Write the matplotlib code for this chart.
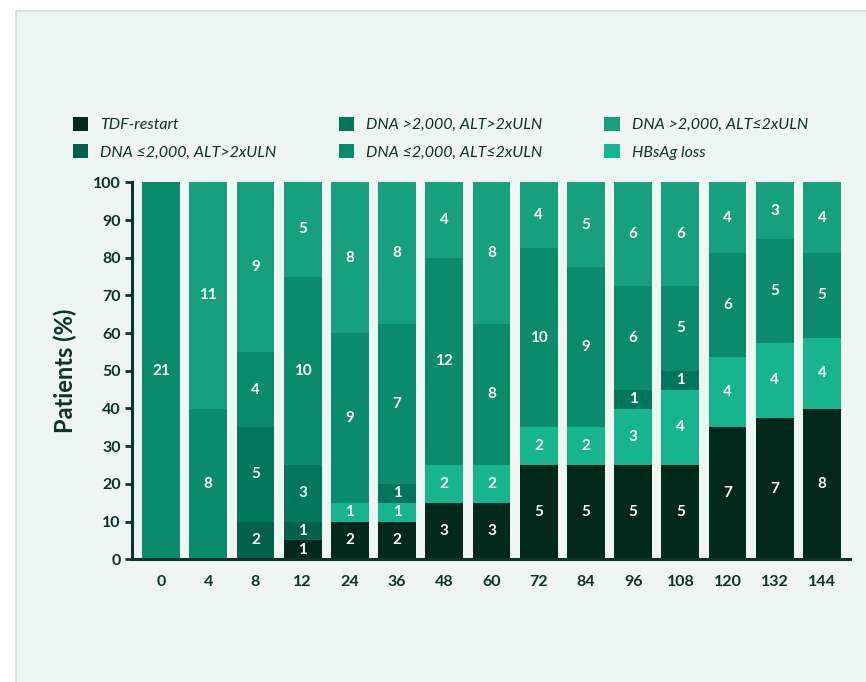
import matplotlib
matplotlib.use("Agg")
import matplotlib.pyplot as plt
from matplotlib.patches import Rectangle, Patch
import numpy as np

plt.rcParams['font.family'] = ['Lato', 'DejaVu Sans']

# ---- data ----
weeks = ['0', '4', '8', '12', '24', '36', '48', '60', '72', '84', '96', '108', '120', '132', '144']

# stack order bottom -> top
cat_names = ['TDF-restart', 'HBsAg loss', 'DNA ≤2,000, ALT>2xULN',
             'DNA >2,000, ALT>2xULN', 'DNA ≤2,000, ALT≤2xULN', 'DNA >2,000, ALT≤2xULN']

# segment heights (% of patients)
pct_tdf      = [0, 0, 0, 5, 10, 10, 15, 15, 25, 25, 25, 25, 35, 37.5, 40]
pct_hbsag    = [0, 0, 0, 0, 5, 5, 10, 10, 10, 10, 15, 20, 18.75, 20, 18.75]
pct_lo_hialt = [0, 0, 10, 5, 0, 0, 0, 0, 0, 0, 0, 0, 0, 0, 0]
pct_hi_hialt = [0, 0, 25, 15, 0, 5, 0, 0, 0, 0, 5, 5, 0, 0, 0]
pct_lo_loalt = [100, 40, 20, 50, 45, 42.5, 55, 37.5, 47.5, 42.5, 27.5, 22.5, 27.5, 27.5, 22.5]
pct_hi_loalt = [0, 60, 45, 25, 40, 37.5, 20, 37.5, 17.5, 22.5, 27.5, 27.5, 18.75, 15, 18.75]

# patient counts shown as labels
n_tdf      = [0, 0, 0, 1, 2, 2, 3, 3, 5, 5, 5, 5, 7, 7, 8]
n_hbsag    = [0, 0, 0, 0, 1, 1, 2, 2, 2, 2, 3, 4, 4, 4, 4]
n_lo_hialt = [0, 0, 2, 1, 0, 0, 0, 0, 0, 0, 0, 0, 0, 0, 0]
n_hi_hialt = [0, 0, 5, 3, 0, 1, 0, 0, 0, 0, 1, 1, 0, 0, 0]
n_lo_loalt = [21, 8, 4, 10, 9, 7, 12, 8, 10, 9, 6, 5, 6, 5, 5]
n_hi_loalt = [0, 11, 9, 5, 8, 8, 4, 8, 4, 5, 6, 6, 4, 3, 4]

yticks = [0, 10, 20, 30, 40, 50, 60, 70, 80, 90, 100]

# ---- style ----
colors = {
    'TDF-restart': '#00291b',
    'HBsAg loss': '#17b58e',
    'DNA ≤2,000, ALT>2xULN': '#03604a',
    'DNA >2,000, ALT>2xULN': '#00775b',
    'DNA ≤2,000, ALT≤2xULN': '#098b6c',
    'DNA >2,000, ALT≤2xULN': '#16a07d',
}
dark = '#0c3327'
panel = '#eef5f2'

pcts = [pct_tdf, pct_hbsag, pct_lo_hialt, pct_hi_hialt, pct_lo_loalt, pct_hi_loalt]
counts = [n_tdf, n_hbsag, n_lo_hialt, n_hi_hialt, n_lo_loalt, n_hi_loalt]

W, H = 866, 682
fig = plt.figure(figsize=(W / 100, H / 100), dpi=100)
fig.patch.set_facecolor('white')
fig.patches.append(Rectangle((16 / W, -0.1), 1.2, 1.1 - 11 / H, transform=fig.transFigure,
                             facecolor=panel, edgecolor='#cfe1d9', linewidth=1.2, zorder=-10))

ax = fig.add_axes([132 / W, 1 - 559.3 / H, (850 - 132) / W, (559.3 - 182.3) / H])
ax.set_zorder(2)
ax.set_facecolor('none')

x = np.arange(len(weeks))
bottom = np.zeros(len(weeks))
for name, p, n in zip(cat_names, pcts, counts):
    p = np.array(p, dtype=float)
    ax.bar(x, p, bottom=bottom, width=0.8, color=colors[name], edgecolor='none', zorder=2)
    for i in range(len(weeks)):
        if n[i] > 0:
            ax.text(x[i], bottom[i] + p[i] / 2, str(n[i]), ha='center', va='center',
                    color='white', fontsize=11, fontweight='bold', zorder=3)
    bottom += p

ax.set_xlim(-0.614, 14.593)
ax.set_ylim(0, 100)
ax.set_xticks(x)
ax.set_xticklabels(weeks)
ax.set_yticks(yticks)
for s in ['top', 'right']:
    ax.spines[s].set_visible(False)
for s in ['left', 'bottom']:
    ax.spines[s].set_color(dark)
    ax.spines[s].set_linewidth(2.2)
ax.tick_params(axis='x', length=0, pad=11, labelsize=11.5, labelcolor=dark)
ax.tick_params(axis='y', length=5, width=2, color=dark, pad=3, labelsize=11.5, labelcolor=dark)
for lab in ax.get_xticklabels() + ax.get_yticklabels():
    lab.set_fontweight('bold')

ax.set_ylabel('Patients (%)', fontsize=17, fontweight='bold', color=dark)
ax.yaxis.set_label_coords(-0.077, 0.5)

legend_order = ['TDF-restart', 'DNA ≤2,000, ALT>2xULN', 'DNA >2,000, ALT>2xULN',
                'DNA ≤2,000, ALT≤2xULN', 'DNA >2,000, ALT≤2xULN', 'HBsAg loss']
handles = [Patch(facecolor=colors[c], edgecolor='none', label=c) for c in legend_order]
leg = fig.legend(handles=handles, ncol=3, loc='upper left',
                 bbox_to_anchor=(73 / W, 1 - 117 / H), frameon=False,
                 prop={'family': 'Lato', 'style': 'italic', 'size': 11.5},
                 handlelength=0.95, handleheight=0.95, handletextpad=0.75,
                 columnspacing=3.9, labelspacing=0.75, borderpad=0, borderaxespad=0)
for t in leg.get_texts():
    t.set_color(dark)

fig.savefig('out.png', dpi=100, facecolor='white')
